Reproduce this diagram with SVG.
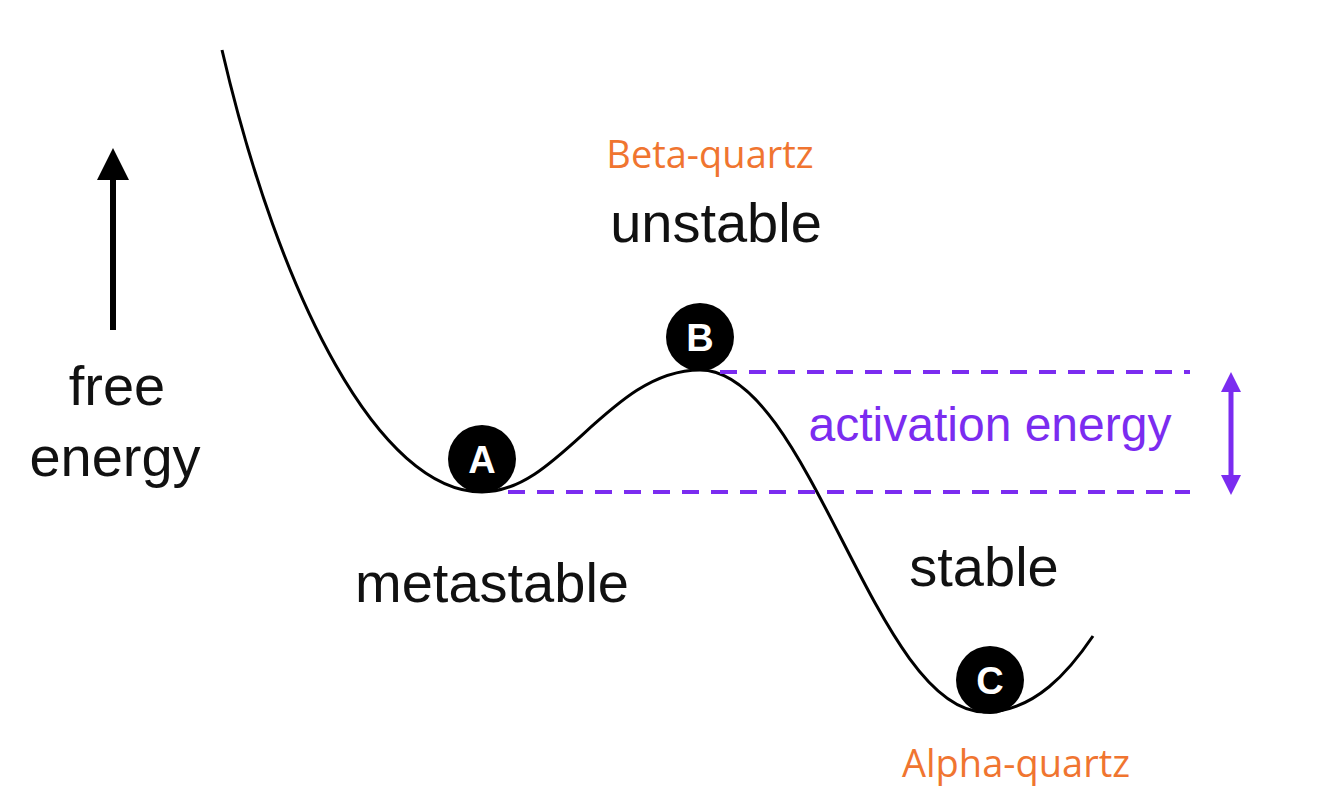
<svg xmlns="http://www.w3.org/2000/svg" width="1334" height="809" viewBox="0 0 1334 809">
<style>
.lbl{font-family:"Liberation Sans",Arial,sans-serif;font-size:56px;fill:#111;text-anchor:middle}
.org{font-family:"Open Sans","Noto Sans",sans-serif;font-size:38px;fill:#f07530;text-anchor:middle}
.act{font-family:"Liberation Sans",Arial,sans-serif;font-size:48px;fill:#7b2cf0;text-anchor:middle}
.ball{fill:#000}
.bt{font-family:"Liberation Sans",Arial,sans-serif;font-size:38px;font-weight:bold;fill:#fff;text-anchor:middle}
.dash{stroke:#7b2cf0;stroke-width:4;stroke-dasharray:17 12;fill:none}
.ph{fill:#7b2cf0}
</style>
<rect width="1334" height="809" fill="#fff"/>
<g id="connectors">
<path id="curve" d="M222,50 C280,300 380,492 482,492 C560,492 610,370 700,370 C810,370 875,712 985,712 C1035,712 1070,670 1093,636" fill="none" stroke="#000" stroke-width="3"/>
<line class="dash" x1="720" y1="372" x2="1190" y2="372"/>
<line class="dash" x1="508" y1="492" x2="1190" y2="492"/>
<line x1="1231" y1="388" x2="1231" y2="478" stroke="#7b2cf0" stroke-width="5"/>
<polygon class="ph" points="1231,372 1221,392 1241,392"/>
<polygon class="ph" points="1231,495 1221,475 1241,475"/>
<line x1="113" y1="330" x2="113" y2="176" stroke="#000" stroke-width="6"/>
<polygon points="113,148 97,180 129,180" fill="#000"/>
</g>
<g id="nodeA"><circle class="ball" cx="482" cy="459" r="34"/><text class="bt" x="482" y="473">A</text></g>
<g id="nodeB"><circle class="ball" cx="700" cy="337" r="34"/><text class="bt" x="700" y="351">B</text></g>
<g id="nodeC"><circle class="ball" cx="990" cy="680" r="34"/><text class="bt" x="990" y="694">C</text></g>
<g id="labels">
<text class="lbl" x="117" y="405">free</text>
<text class="lbl" x="115" y="476">energy</text>
<text class="lbl" x="716" y="242">unstable</text>
<text class="lbl" x="492" y="602">metastable</text>
<text class="lbl" x="984" y="586">stable</text>
<text class="act" x="990" y="441">activation energy</text>
<text class="org" x="710" y="168">Beta-quartz</text>
<text class="org" x="1016" y="777">Alpha-quartz</text>
</g>
</svg>
